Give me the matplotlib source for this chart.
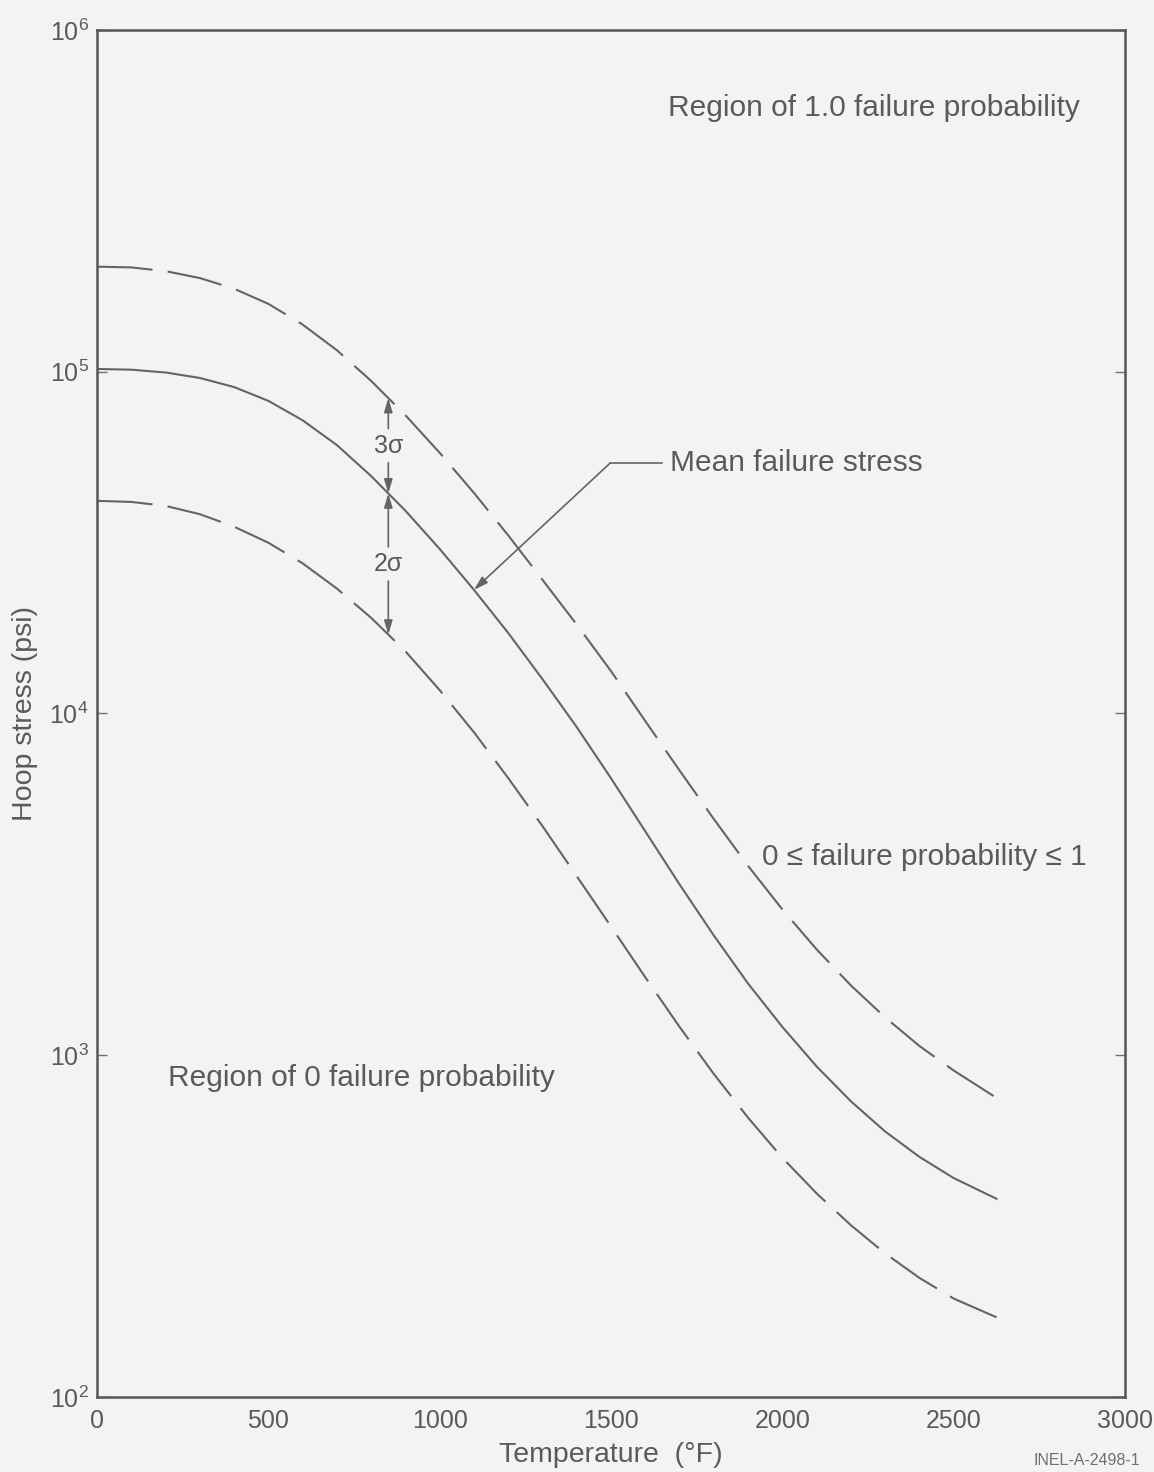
import matplotlib
matplotlib.use("Agg")
import matplotlib.pyplot as plt
import numpy as np
from matplotlib.ticker import FixedLocator, NullLocator

# 글꼴 설정 (Helvetica 비슷한 Liberation Sans)
plt.rcParams['font.family'] = ['Liberation Sans', 'DejaVu Sans']
plt.rcParams['mathtext.fontset'] = 'custom'
plt.rcParams['mathtext.rm'] = 'Liberation Sans'
plt.rcParams['mathtext.it'] = 'Liberation Sans:italic'
plt.rcParams['lines.scale_dashes'] = False

# 온도 (°F)
temp = [0, 100, 200, 300, 400, 500, 600, 700, 800, 900, 1000, 1100, 1200,
        1300, 1400, 1500, 1600, 1700, 1800, 1900, 2000, 2100, 2200, 2300,
        2400, 2500, 2625]

# 평균 파괴 응력 (psi)
mean_stress = [1.019e5, 1.014e5, 9.95e4, 9.59e4, 9.02e4, 8.22e4, 7.21e4,
               6.10e4, 4.95e4, 3.92e4, 3.03e4, 2.30e4, 1.72e4, 1.26e4,
               9.12e3, 6.46e3, 4.52e3, 3.16e3, 2.24e3, 1.62e3, 1.21e3, 927,
               733, 598, 504, 437, 380]

# 평균 + 3 sigma
upper_stress = [2.03e5, 2.02e5, 1.97e5, 1.88e5, 1.75e5, 1.58e5, 1.374e5,
                1.156e5, 9.4e4, 7.46e4, 5.79e4, 4.42e4, 3.32e4, 2.46e4,
                1.82e4, 1.33e4, 9.5e3, 6.81e3, 4.91e3, 3.58e3, 2.67e3,
                2.04e3, 1.60e3, 1.29e3, 1.064e3, 902, 750]

# 평균 - 2 sigma
lower_stress = [4.19e4, 4.16e4, 4.05e4, 3.83e4, 3.52e4, 3.16e4, 2.75e4,
                2.32e4, 1.905e4, 1.52e4, 1.17e4, 8.81e3, 6.47e3, 4.68e3,
                3.34e3, 2.38e3, 1.69e3, 1.21e3, 881, 656, 501, 394, 318,
                263, 223, 194, 171]

x_ticks = [0, 500, 1000, 1500, 2000, 2500, 3000]
y_ticks = [1e2, 1e3, 1e4, 1e5, 1e6]
y_tick_labels = ['$10^2$', '$10^3$', '$10^4$', '$10^5$', '$10^6$']

dim_temp = 850       # 3σ / 2σ 치수선 위치
leader_tip = 1100    # 화살표가 가리키는 평균 곡선 위치

bg = '#f3f3f3'
ink = '#646464'
txt = '#5a5a5a'

fig = plt.figure(figsize=(11.54, 14.72), dpi=100, facecolor=bg)
ax = fig.add_axes([0.0841, 0.0510, 0.8908, 0.9286], facecolor=bg)
ax.set_yscale('log')
ax.set_xlim(0, 3000)
ax.set_ylim(1e2, 1e6)

dash = (0, (40, 11))
ax.plot(temp, upper_stress, color=ink, lw=1.5, linestyle=dash)
ax.plot(temp, mean_stress, color=ink, lw=1.5)
ax.plot(temp, lower_stress, color=ink, lw=1.5, linestyle=dash)

# 축 스타일
for s in ax.spines.values():
    s.set_color('#555555')
    s.set_linewidth(1.8)
ax.xaxis.set_major_locator(FixedLocator(x_ticks))
ax.yaxis.set_major_locator(FixedLocator(y_ticks))
ax.yaxis.set_minor_locator(NullLocator())
ax.set_yticklabels(y_tick_labels)
ax.tick_params(axis='y', which='major', direction='in', length=7, width=1,
               colors='#707070', labelcolor=txt, labelsize=18, pad=6,
               left=True, right=True)
ax.tick_params(axis='x', which='major', direction='in', length=0,
               labelcolor=txt, labelsize=18, pad=9)

ax.set_xlabel('Temperature  (°F)', fontsize=20.5, color=txt)
ax.xaxis.set_label_coords(0.5, -0.033)
ax.set_ylabel('Hoop stress (psi)', fontsize=20.5, color=txt)
ax.yaxis.set_label_coords(-0.057, 0.5)

# 영역 설명 글자
ax.text(1666, 5.9e5, 'Region of 1.0 failure probability', fontsize=21.5,
        color=txt, va='center', ha='left')
ax.text(1941, 3.8e3, '0 ≤ failure probability ≤ 1', fontsize=21.5,
        color=txt, va='center', ha='left')
ax.text(207, 8.6e2, 'Region of 0 failure probability', fontsize=21.5,
        color=txt, va='center', ha='left')


def at(curve, x):
    return 10 ** np.interp(x, temp, np.log10(curve))


arrow_kw = dict(arrowstyle='-|>,head_length=0.6,head_width=0.18', color=ink,
                lw=1.2, shrinkA=0, shrinkB=0, mutation_scale=14)

# 3σ / 2σ 치수선
up = at(upper_stress, dim_temp)
mid = at(mean_stress, dim_temp)
lo = at(lower_stress, dim_temp)
gap = 10 ** 0.05
for top, bot, label in [(up, mid, '3σ'), (mid, lo, '2σ')]:
    centre = np.sqrt(top * bot)
    ax.text(dim_temp, centre, label, fontsize=18, color=txt,
            ha='center', va='center')
    ax.annotate('', xy=(dim_temp, top), xytext=(dim_temp, centre * gap),
                arrowprops=arrow_kw)
    ax.annotate('', xy=(dim_temp, bot), xytext=(dim_temp, centre / gap),
                arrowprops=arrow_kw)

# 평균 파괴 응력 지시선
label_y = 5.4e4
ax.text(1672, label_y, 'Mean failure stress', fontsize=21.5, color=txt,
        va='center', ha='left')
ax.plot([1497, 1650], [label_y, label_y], color=ink, lw=1.2)
ax.annotate('', xy=(leader_tip, at(mean_stress, leader_tip)),
            xytext=(1497, label_y), arrowprops=arrow_kw)

fig.text(0.988, 0.0075, 'INEL-A-2498-1', fontsize=11.5, color='#707070',
         ha='right', va='center')

fig.savefig('out.png', dpi=100, facecolor=bg)
